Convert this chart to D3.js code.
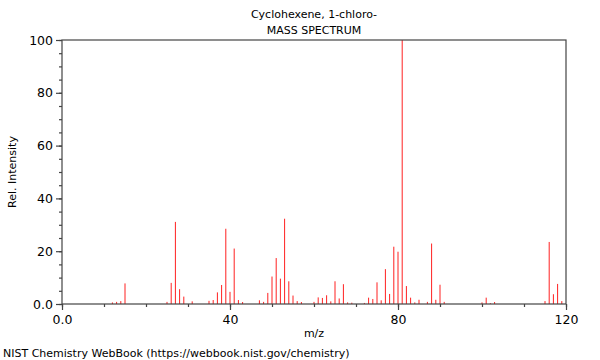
<!DOCTYPE html>
<html>
<head>
<meta charset="utf-8">
<script src="https://cdn.jsdelivr.net/npm/d3@7"></script>
<style>
  body { margin: 0; background: #fff; }
  text { font-family: "DejaVu Sans", sans-serif; fill: #000; }
</style>
</head>
<body>
<div id="chart"></div>
<script>
// m/z and relative intensity
const mzValues = [12, 13, 14, 15, 25, 26, 27, 28, 29, 31, 35, 36, 37, 38, 39, 40, 41, 42, 43,
  47, 48, 49, 50, 51, 52, 53, 54, 55, 56, 57, 60, 61, 62, 63, 64, 65, 66, 67, 68, 69,
  72, 73, 74, 75, 76, 77, 78, 79, 80, 81, 82, 83, 84, 85, 87, 88, 89, 90, 91,
  100, 101, 102, 103, 115, 116, 117, 118, 119];
const intensities = [0.6, 0.8, 1.1, 7.8, 0.8, 8.0, 31.1, 5.6, 2.8, 1.0, 1.2, 1.5, 4.4, 7.2, 28.5, 4.6, 21.0, 1.5, 0.75,
  1.4, 0.8, 4.2, 10.4, 17.4, 9.6, 32.3, 8.6, 3.2, 1.1, 0.75, 0.8, 2.5, 2.3, 3.3, 1.0, 8.6, 2.1, 7.5, 0.6, 0.5,
  0.4, 2.4, 1.9, 8.2, 1.4, 13.2, 3.8, 21.7, 19.8, 100, 6.8, 2.4, 0.6, 1.6, 0.8, 22.9, 1.6, 7.3, 0.8,
  0.6, 2.4, 0.3, 0.75, 1.1, 23.5, 3.7, 7.6, 1.1];

const xTickLabels = [0, 40, 80, 120];
const yTickLabels = [0, 20, 40, 60, 80, 100];

const width = 600, height = 360;
const margin = { left: 62, right: 34, top: 40, bottom: 56 };

const svg = d3.select("#chart").append("svg")
  .attr("width", width)
  .attr("height", height);

const x = d3.scaleLinear().domain([0, 120]).range([margin.left, width - margin.right]);
const y = d3.scaleLinear().domain([0, 100]).range([height - margin.bottom, margin.top]);

// titles
svg.append("text")
  .attr("x", x(60)).attr("y", 18)
  .attr("text-anchor", "middle")
  .style("font-size", "11px")
  .text("Cyclohexene, 1-chloro-");
svg.append("text")
  .attr("x", x(60)).attr("y", 34)
  .attr("text-anchor", "middle")
  .style("font-size", "11px")
  .text("MASS SPECTRUM");

// peaks
svg.append("g").selectAll("line")
  .data(mzValues.map((m, i) => ({ mz: m, v: intensities[i] })))
  .enter().append("line")
  .attr("x1", d => x(d.mz)).attr("x2", d => x(d.mz))
  .attr("y1", y(0)).attr("y2", d => y(d.v))
  .attr("stroke", "#ff2020")
  .attr("stroke-width", 1);

// frame
svg.append("rect")
  .attr("x", x(0)).attr("y", y(100))
  .attr("width", x(120) - x(0)).attr("height", y(0) - y(100))
  .attr("fill", "none")
  .attr("stroke", "#444")
  .attr("stroke-width", 1.2);

// x axis
const xMinor = svg.append("g")
  .attr("transform", `translate(0,${y(0)})`)
  .call(d3.axisBottom(x).tickValues(d3.range(0, 121, 10)).tickSize(3).tickFormat(""));
const xMajor = svg.append("g")
  .attr("transform", `translate(0,${y(0)})`)
  .call(d3.axisBottom(x).tickValues(xTickLabels).tickSize(6).tickPadding(5)
    .tickFormat(d => d === 0 ? "0.0" : d));

// y axis
const yMinor = svg.append("g")
  .attr("transform", `translate(${x(0)},0)`)
  .call(d3.axisLeft(y).tickValues(d3.range(0, 101, 5)).tickSize(3).tickFormat(""));
const yMajor = svg.append("g")
  .attr("transform", `translate(${x(0)},0)`)
  .call(d3.axisLeft(y).tickValues(yTickLabels).tickSize(6).tickPadding(3)
    .tickFormat(d => d === 0 ? "0.0" : d));

[xMinor, xMajor, yMinor, yMajor].forEach(g => {
  g.select(".domain").remove();
  g.selectAll("line").attr("stroke", "#444").attr("stroke-width", 1.2);
  g.selectAll("text").style("font-size", "12.5px").style("font-family", "DejaVu Sans");
});

// axis titles
svg.append("text")
  .attr("x", x(60)).attr("y", 337)
  .attr("text-anchor", "middle")
  .style("font-size", "11px")
  .text("m/z");
svg.append("text")
  .attr("transform", `translate(16,${(y(0) + y(100)) / 2}) rotate(-90)`)
  .attr("text-anchor", "middle")
  .style("font-size", "11px")
  .text("Rel. Intensity");

// footer
svg.append("text")
  .attr("x", 3).attr("y", 357)
  .style("font-size", "11px")
  .text("NIST Chemistry WebBook (https://webbook.nist.gov/chemistry)");
</script>
</body>
</html>
